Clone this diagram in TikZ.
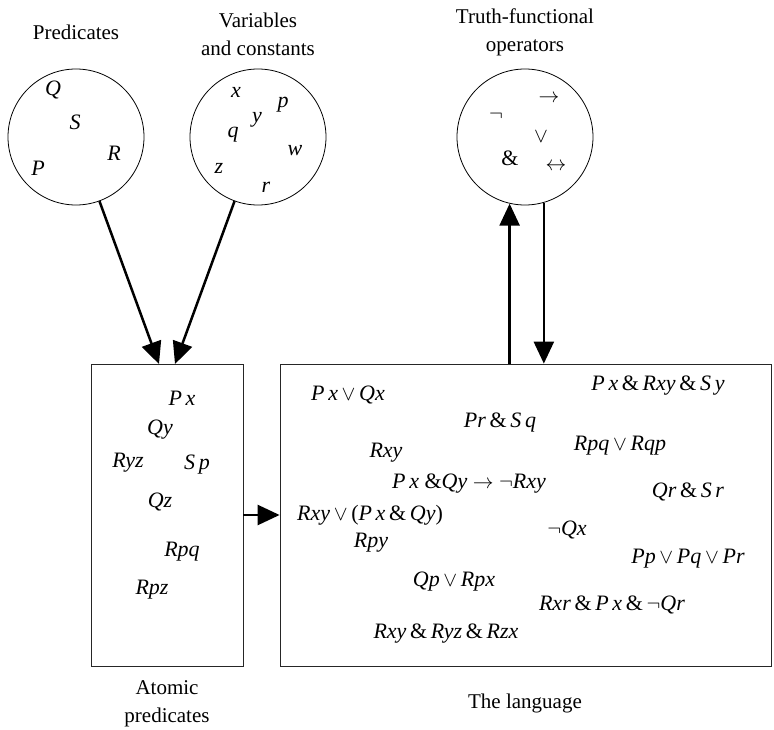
\documentclass[tikz,border=0pt]{standalone}
\usepackage{fontspec}
\setmainfont{Liberation Serif}
\usetikzlibrary{arrows.meta}
\newcommand{\ii}[1]{\textit{#1}}
\newcommand{\orr}{\,$\vee$\,}
\newcommand{\andd}{\,\&\,}
\begin{document}
\begin{tikzpicture}[x=1pt,y=-1pt,
  every node/.style={font=\fontsize{22}{26}\selectfont, inner sep=0pt},
  ring/.style={circle, draw, line width=0.8pt, minimum size=136pt},
  frame/.style={draw, line width=0.8pt, color=black!85},
  bigarrow/.style={line width=2.5pt, -{Triangle[length=22pt,width=20pt]}},
  label/.style={align=center, font=\fontsize{21}{28}\selectfont}]
\useasboundingbox (0,0) rectangle (774,730);

% titles
\node[label] (lp) at (76,32) {Predicates};
\node[label] (lv) at (258,34) {Variables\\and constants};
\node[label] (lt) at (525,32) {Truth-functional\\operators};
\node[label] (la) at (167,704) {Atomic\\predicates};
\node[label] (ll) at (525,703) {The language};

% circles
\node[ring] (c1) at (76,137) {};
\node[ring] (c2) at (258,137) {};
\node[ring] (c3) at (525,137) {};

\node (p1) at (53,90) {\ii{Q}};
\node (p2) at (75,122) {\ii{S}};
\node (p3) at (114,153) {\ii{R}};
\node (p4) at (38,168) {\ii{P}};

\node (v1) at (236,92) {\ii{x}};
\node (v2) at (283,105) {\ii{p}};
\node (v3) at (257,120) {\ii{y}};
\node (v4) at (233,135) {\ii{q}};
\node (v5) at (295,151) {\ii{w}};
\node (v6) at (219,168) {\ii{z}};
\node (v7) at (266,187) {\ii{r}};

\node (o1) at (549,99) {$\rightarrow$};
\node (o2) at (496,116) {$\neg$};
\node (o3) at (541,137) {$\vee$};
\node (o4) at (510,158) {\&};
\node (o5) at (556,167) {$\leftrightarrow$};

% boxes
\node[frame, minimum width=152pt, minimum height=302pt] (lb) at (167,515) {};
\node[frame, minimum width=491pt, minimum height=302pt] (lang) at (525.5,515) {};

% atomic predicates
\node (a1) at (182,398) {\ii{P\,x}};
\node (a2) at (160,430) {\ii{Qy}};
\node (a3) at (128,463) {\ii{Ryz}};
\node (a4) at (197,465) {\ii{S\,p}};
\node (a5) at (160,502) {\ii{Qz}};
\node (a6) at (182,552) {\ii{Rpq}};
\node (a7) at (152,590) {\ii{Rpz}};

% language
\node (f1) at (348,395) {\ii{P\,x}\orr\ii{Qx}};
\node (f2) at (658,386) {\ii{P\,x}\andd\ii{Rxy}\andd\ii{S\,y}};
\node (f3) at (500,423) {\ii{Pr}\andd\ii{S\,q}};
\node (f4) at (620,446) {\ii{Rpq}\orr\ii{Rqp}};
\node (f5) at (386,453) {\ii{Rxy}};
\node (f6) at (469,484) {\ii{P\,x} \&\ii{Qy} $\rightarrow$ $\neg$\ii{Rxy}};
\node (f7) at (688,492) {\ii{Qr}\andd\ii{S\,r}};
\node (f8) at (370,515) {\ii{Rxy}\orr(\ii{P\,x}\andd\ii{Qy})};
\node (f9) at (567,530) {$\neg$\ii{Qx}};
\node (f10) at (371,543) {\ii{Rpy}};
\node (f11) at (688,559) {\ii{Pp}\orr\ii{Pq}\orr\ii{Pr}};
\node (f12) at (454,582) {\ii{Qp}\orr\ii{Rpx}};
\node (f13) at (612,605) {\ii{Rxr}\andd\ii{P\,x}\andd$\neg$\ii{Qr}};
\node (f14) at (446,634) {\ii{Rxy}\andd\ii{Ryz}\andd\ii{Rzx}};

% arrows
\coordinate (t1) at (159,364);
\coordinate (t2) at (175,364);
\draw[bigarrow] (c1) -- (t1);
\draw[bigarrow] (c2) -- (t2);
\draw[bigarrow] (lb.east) -- (lang.west);
\draw[bigarrow] (c3.257 |- lang.north) -- (c3.257);
\draw[bigarrow] (c3.286) -- (c3.286 |- lang.north);
\end{tikzpicture}
\end{document}
